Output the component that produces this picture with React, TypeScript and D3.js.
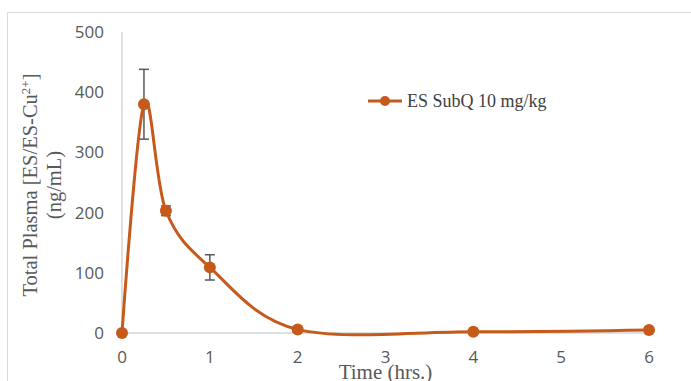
import React from "react";
import * as d3 from "d3";

const times = [0, 0.25, 0.5, 1, 2, 4, 6];
const plasma = [0, 380, 203, 109, 6, 2, 5];
const errors = [0, 58, 8, 21, 0, 0, 0];
const xTicks = [0, 1, 2, 3, 4, 5, 6];
const yTicks = [0, 100, 200, 300, 400, 500];
const seriesName = "ES SubQ 10 mg/kg";

const W = 691;
const H = 381;
const color = "#C55A1B";

export default function App() {
  const x = d3.scaleLinear().domain([0, 6]).range([122, 649]);
  const y = d3.scaleLinear().domain([0, 500]).range([333, 32]);
  const pts = times.map((t, i) => [x(t), y(plasma[i])] as [number, number]);
  const line = d3.line().curve(d3.curveCardinal.tension(0))(pts) || "";
  const tickFont = "'Open Sans', 'DejaVu Sans', sans-serif";
  const serif = "'Liberation Serif', 'Times New Roman', serif";
  return (
    <svg width={W} height={H} style={{ position: "absolute", left: 0, top: 0 }}>
      <rect x={0} y={0} width={W} height={H} fill="#fff" />
      <rect x={7.5} y={12.5} width={W + 10} height={H + 10} fill="none" stroke="#d9d9d9" strokeWidth={1} />
      <line x1={x(0)} x2={x(0)} y1={y(500)} y2={y(0)} stroke="#bfbfbf" strokeWidth={1} />
      <line x1={x(0)} x2={x(6)} y1={y(0)} y2={y(0)} stroke="#bfbfbf" strokeWidth={1} />
      {yTicks.map((v) => (
        <text key={"y" + v} x={104} y={y(v)} dy="0.35em" textAnchor="end" fontFamily={tickFont} fontSize={17} fill="#595959">
          {v}
        </text>
      ))}
      {xTicks.map((v) => (
        <text key={"x" + v} x={x(v)} y={357} dy="0.35em" textAnchor="middle" fontFamily={tickFont} fontSize={17} fill="#595959">
          {v}
        </text>
      ))}
      <text x={x(3)} y={379} textAnchor="middle" fontFamily={serif} fontSize={21} fill="#595959">
        Time (hrs.)
      </text>
      <g transform="translate(0,185) rotate(-90)">
        <text x={0} y={37} textAnchor="middle" fontFamily={serif} fontSize={20.5} fill="#595959">
          Total Plasma [ES/ES-Cu<tspan dy={-7} fontSize={13}>2+</tspan><tspan dy={7}>]</tspan>
        </text>
        <text x={0} y={61} textAnchor="middle" fontFamily={serif} fontSize={20.5} fill="#595959">
          (ng/mL)
        </text>
      </g>
      {times.map((t, i) =>
        errors[i] > 0 ? (
          <g key={"e" + i} stroke="#595959" strokeWidth={1.5}>
            <line x1={x(t)} x2={x(t)} y1={y(plasma[i] + errors[i])} y2={y(plasma[i] - errors[i])} />
            <line x1={x(t) - 5} x2={x(t) + 5} y1={y(plasma[i] + errors[i])} y2={y(plasma[i] + errors[i])} />
            <line x1={x(t) - 5} x2={x(t) + 5} y1={y(plasma[i] - errors[i])} y2={y(plasma[i] - errors[i])} />
          </g>
        ) : null
      )}
      <path d={line} fill="none" stroke={color} strokeWidth={3} />
      {pts.map((p, i) => (
        <circle key={"p" + i} cx={p[0]} cy={p[1]} r={6} fill={color} />
      ))}
      <line x1={368} x2={402} y1={101} y2={101} stroke={color} strokeWidth={3} />
      <circle cx={385} cy={101} r={5} fill={color} />
      <text x={407} y={107} fontFamily={serif} fontSize={18} fill="#404040">
        {seriesName}
      </text>
    </svg>
  );
}
